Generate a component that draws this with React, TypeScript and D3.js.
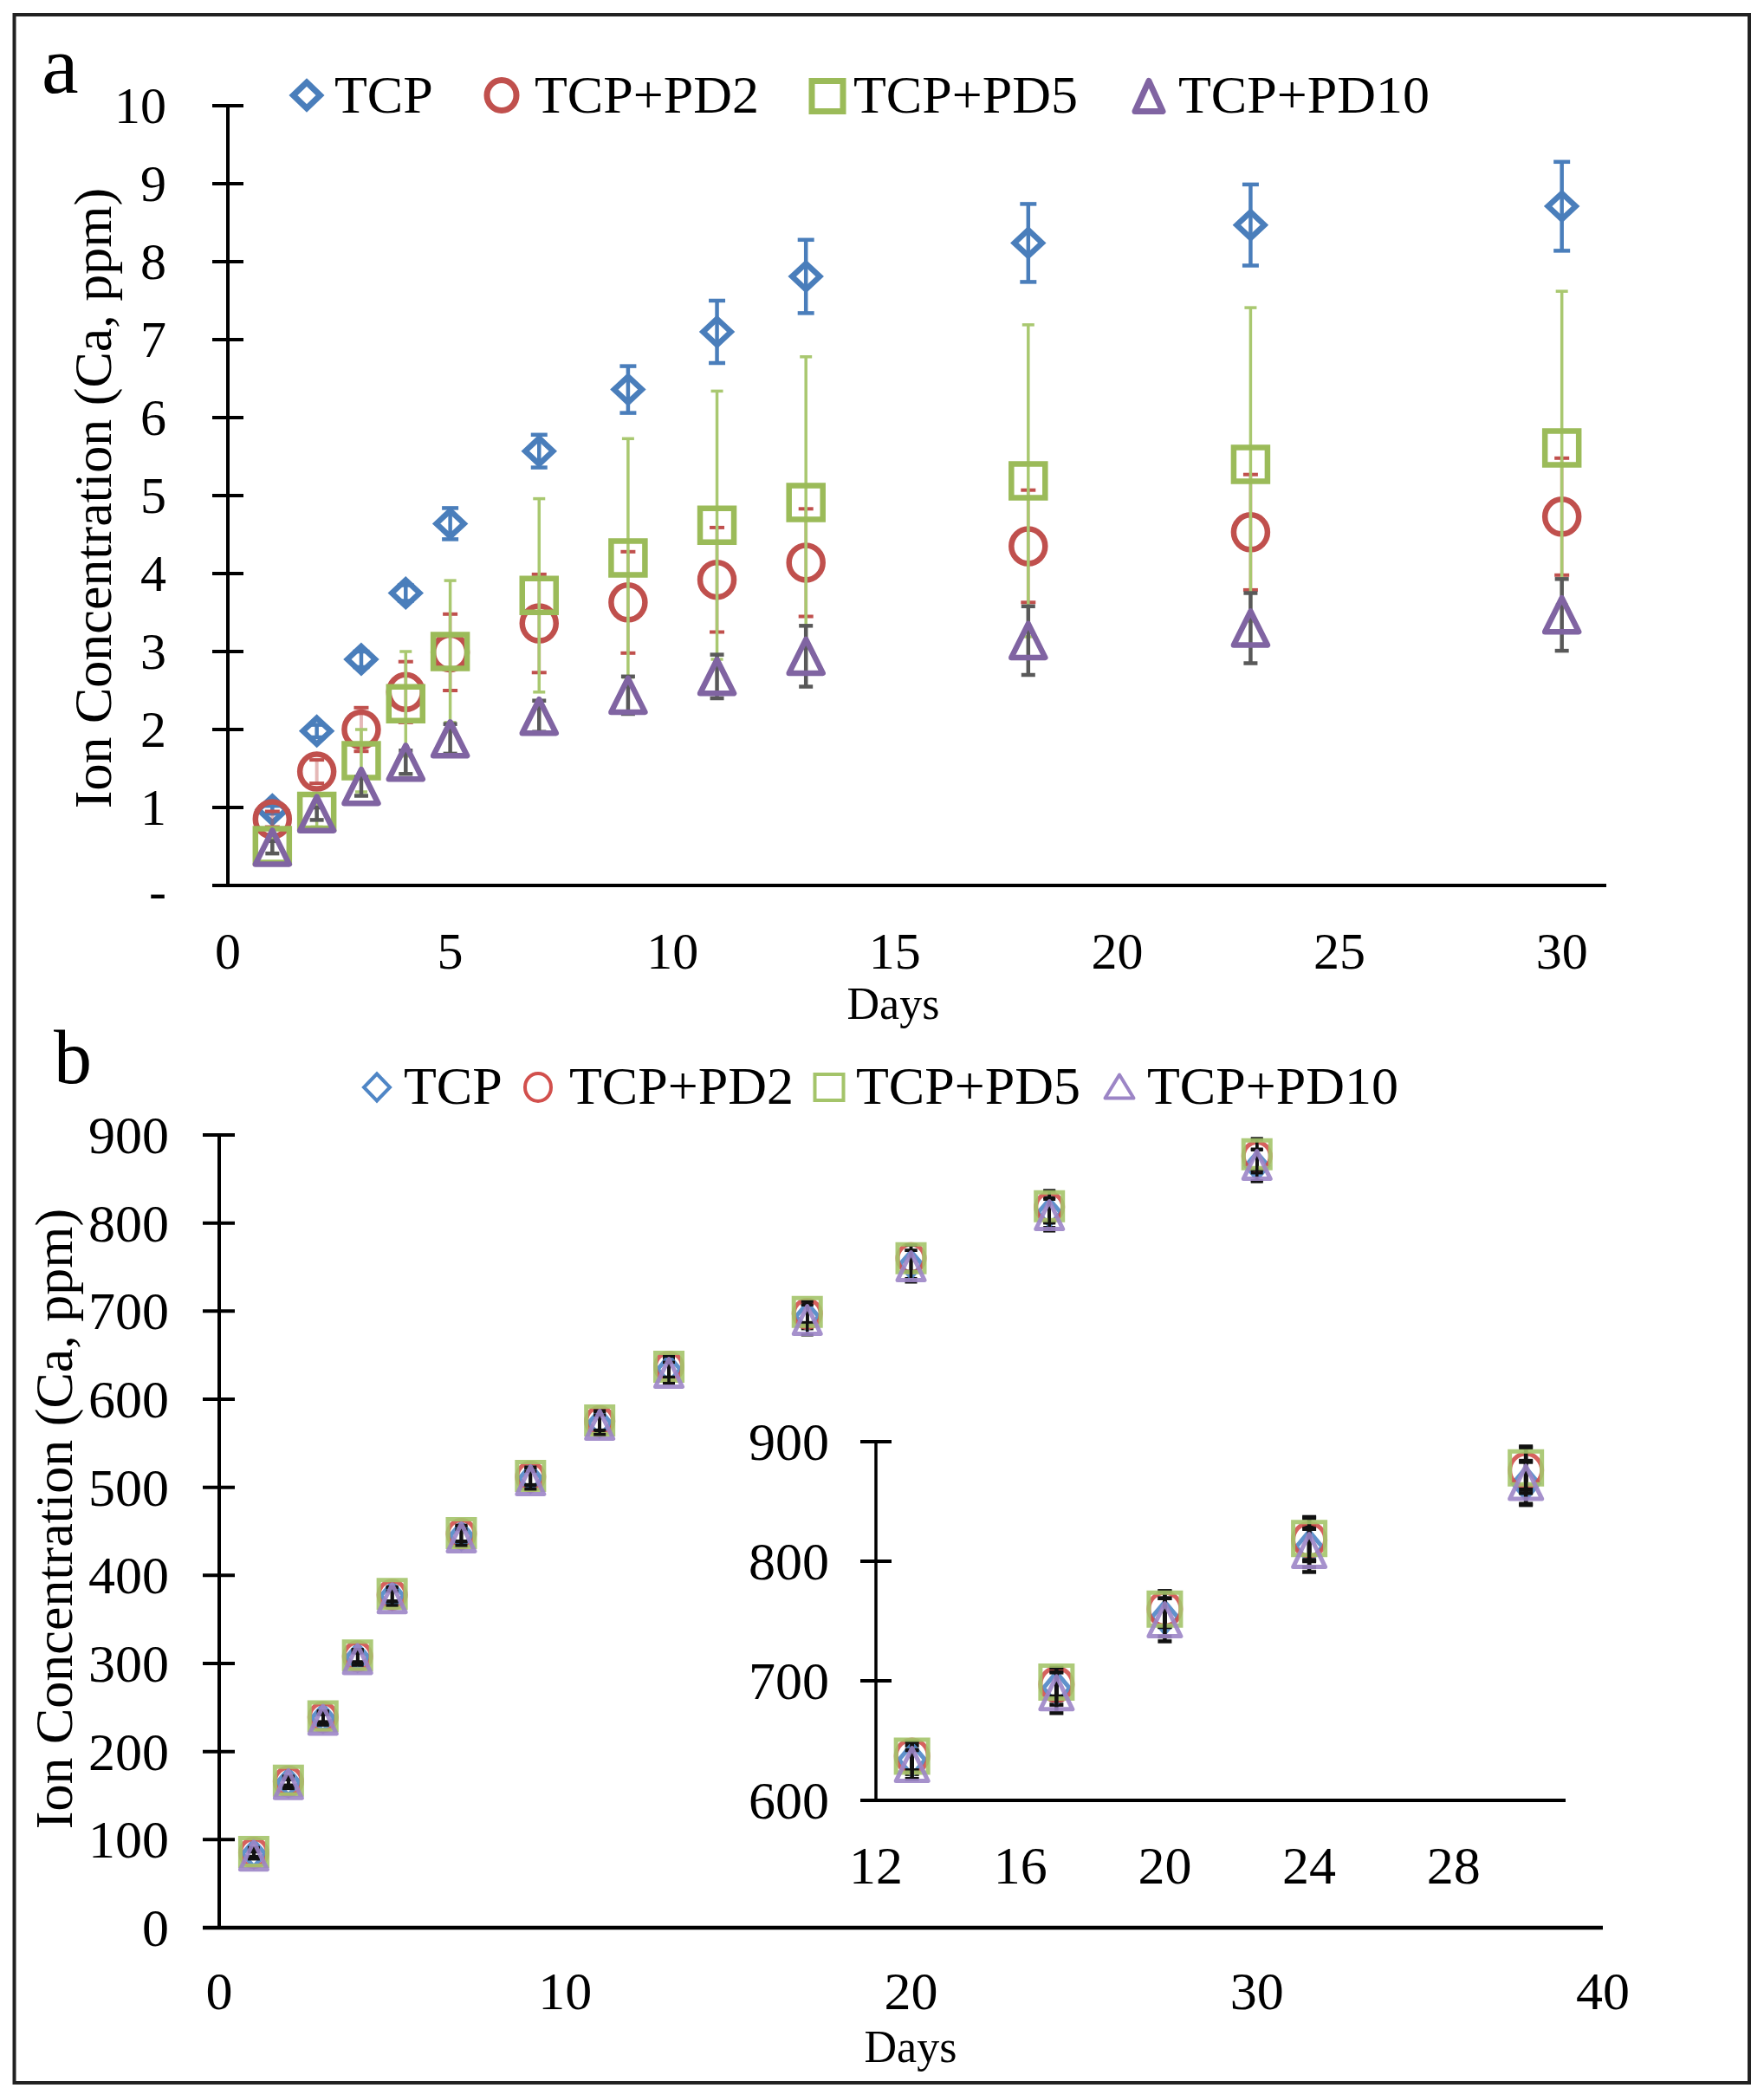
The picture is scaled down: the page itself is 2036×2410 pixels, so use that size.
import React from "react";
import * as d3 from "d3";

const FONT = "'Liberation Serif', 'Times New Roman', serif";

const seriesNames = ["TCP", "TCP+PD2", "TCP+PD5", "TCP+PD10"];
const seriesKinds = ["diamond", "circle", "square", "triangle"];
const colorsA = ["#4a7ebb", "#c0504d", "#9bbb59", "#8064a2"];
const errColorsA = ["#4a7ebb", "#c0504d", "#a9c870", "#595959"];
const colorsB = ["#4f86c6", "#d2504d", "#a4c46a", "#9c85c6"];

// Panel a data
const daysA = [1, 2, 3, 4, 5, 7, 9, 11, 13, 18, 23, 30];
const tcpA = [0.97, 1.98, 2.9, 3.75, 4.64, 5.57, 6.36, 7.1, 7.81, 8.24, 8.47, 8.71];
const tcpAErr = [0.05, 0.08, 0.1, 0.1, 0.2, 0.21, 0.3, 0.4, 0.47, 0.5, 0.52, 0.57];
const pd2A = [0.85, 1.46, 2.0, 2.48, 2.99, 3.36, 3.63, 3.92, 4.14, 4.35, 4.53, 4.73];
const pd2AErr = [0.1, 0.15, 0.28, 0.39, 0.49, 0.63, 0.65, 0.67, 0.69, 0.72, 0.74, 0.75];
const pd5A = [0.51, 0.95, 1.6, 2.33, 3.0, 3.72, 4.2, 4.62, 4.91, 5.19, 5.4, 5.61];
const pd5AErr = [0.1, 0.2, 0.4, 0.67, 0.91, 1.24, 1.53, 1.72, 1.87, 2.0, 2.01, 2.01];
const pd10A = [0.49, 0.92, 1.27, 1.58, 1.88, 2.17, 2.44, 2.68, 2.94, 3.14, 3.3, 3.47];
const pd10AErr = [0.08, 0.08, 0.12, 0.15, 0.19, 0.2, 0.24, 0.28, 0.39, 0.44, 0.45, 0.46];

const xTicksA = [0, 5, 10, 15, 20, 25, 30];
const yTicksA = [0, 1, 2, 3, 4, 5, 6, 7, 8, 9, 10];
const yTickLabelsA = ["-", "1", "2", "3", "4", "5", "6", "7", "8", "9", "10"];

// Panel b data
const daysB = [1, 2, 3, 4, 5, 7, 9, 11, 13, 17, 20, 24, 30];
const tcpB = [84, 165, 238, 307, 377, 445, 510, 573, 634, 694, 753, 812, 865];
const pd2B = [85, 166, 239, 308, 378, 447, 512, 575, 637, 697, 760, 818, 876];
const pd5B = [86, 167, 240, 309, 379, 448, 513, 576, 637, 699, 760, 819, 878];
const pd10B = [82, 163, 236, 305, 374, 443, 508, 571, 630, 690, 751, 809, 866];
const tcpBErr = [4, 5, 6, 7, 8, 9, 10, 11, 12, 14, 16, 17, 18];
const pd2BErr = [4, 5, 6, 7, 8, 9, 10, 11, 12, 13, 15, 18, 19];
const pd5BErr = [5, 5, 6, 7, 8, 9, 10, 11, 12, 12, 15, 18, 18];
const pd10BErr = [4, 5, 6, 7, 8, 9, 10, 11, 12, 17, 18, 18, 18];

const xTicksB = [0, 10, 20, 30, 40];
const yTicksB = [0, 100, 200, 300, 400, 500, 600, 700, 800, 900];
const xTicksInset = [12, 16, 20, 24, 28];
const yTicksInset = [600, 700, 800, 900];
const insetMinDay = 12;

const seriesA = [
  { v: tcpA, e: tcpAErr },
  { v: pd2A, e: pd2AErr },
  { v: pd5A, e: pd5AErr },
  { v: pd10A, e: pd10AErr },
];
const seriesB = [
  { v: tcpB, e: tcpBErr },
  { v: pd2B, e: pd2BErr },
  { v: pd5B, e: pd5BErr },
  { v: pd10B, e: pd10BErr },
];

function markerPath(kind: string, cx: number, cy: number, w: number, h: number) {
  const hw = w / 2, hh = h / 2;
  if (kind === "diamond") {
    return `M${cx},${cy - hh}L${cx + hw},${cy}L${cx},${cy + hh}L${cx - hw},${cy}Z`;
  }
  if (kind === "square") {
    return `M${cx - hw},${cy - hh}L${cx + hw},${cy - hh}L${cx + hw},${cy + hh}L${cx - hw},${cy + hh}Z`;
  }
  if (kind === "triangle") {
    return `M${cx},${cy - hh}L${cx + hw},${cy + hh}L${cx - hw},${cy + hh}Z`;
  }
  return `M${cx - hw},${cy}A${hw},${hh} 0 1,0 ${cx + hw},${cy}A${hw},${hh} 0 1,0 ${cx - hw},${cy}Z`;
}

function Marker(props: { kind: string; cx: number; cy: number; w: number; h: number; color: string; sw: number; opacity?: number }) {
  const { kind, cx, cy, w, h, color, sw, opacity } = props;
  return (
    <path
      d={markerPath(kind, cx, cy, w, h)}
      fill="none"
      stroke={color}
      strokeWidth={sw}
      strokeLinejoin={kind === "triangle" ? "round" : "miter"}
      opacity={opacity ?? 1}
    />
  );
}

const sizeA: Record<string, [number, number]> = {
  diamond: [32, 30],
  circle: [39, 40],
  square: [39, 39],
  triangle: [39, 39],
};

export default function App() {
  const xA = d3.scaleLinear().domain([0, 31]).range([263, 1854]);
  const yA = d3.scaleLinear().domain([0, 10]).range([1022, 122]);
  const xB = d3.scaleLinear().domain([0, 40]).range([253, 1850]);
  const yB = d3.scaleLinear().domain([0, 900]).range([2225, 1310]);
  const xI = d3.scaleLinear().domain([12, 31.1]).range([1011, 1807]);
  const yI = d3.scaleLinear().domain([600, 900]).range([2078, 1664]);

  const axisStroke = "#000";

  const errBar = (x: number, y0: number, y1: number, color: string, sw: number, cap: number, key: string, lineOpacity = 1) => (
    <g key={key}>
      <line x1={x} x2={x} y1={y0} y2={y1} stroke={color} strokeWidth={sw} opacity={lineOpacity} />
      <line x1={x - cap / 2} x2={x + cap / 2} y1={y0} y2={y0} stroke={color} strokeWidth={sw} />
      <line x1={x - cap / 2} x2={x + cap / 2} y1={y1} y2={y1} stroke={color} strokeWidth={sw} />
    </g>
  );

  const errStyleA = [
    { sw: 4.5, cap: 19, op: 1 },
    { sw: 4, cap: 17, op: 0.4 },
    { sw: 3.5, cap: 14, op: 1 },
    { sw: 4.5, cap: 16, op: 1 },
  ];

  const legendA = [
    { mx: 354, my: 110, w: 31, h: 30, tx: 386 },
    { mx: 579, my: 110, w: 34, h: 35, tx: 617 },
    { mx: 955, my: 111, w: 36, h: 35, tx: 985 },
    { mx: 1326, my: 111, w: 32, h: 35, tx: 1360 },
  ];
  const legendB = [
    { mx: 435, my: 1255, w: 30, h: 31, tx: 466 },
    { mx: 621, my: 1255, w: 30, h: 32, tx: 657 },
    { mx: 957, my: 1255, w: 33, h: 30, tx: 988 },
    { mx: 1292, my: 1254, w: 33, h: 27, tx: 1324 },
  ];

  return (
    <svg
      width={2036}
      height={2410}
      viewBox="0 0 2036 2410"
      style={{ position: "absolute", left: 0, top: 0, display: "block", background: "#fff" }}
      fontFamily={FONT}
    >
      <rect x={0} y={0} width={2036} height={2410} fill="#fff" />
      <rect x={16.5} y={17} width={2002.5} height={2387} fill="none" stroke="#222" strokeWidth={4} />

      {/* ================= Panel a ================= */}
      <text x={48} y={107} fontSize={96}>a</text>

      {seriesNames.map((n, i) => (
        <g key={"la" + i}>
          <Marker kind={seriesKinds[i]} cx={legendA[i].mx} cy={legendA[i].my} w={legendA[i].w} h={legendA[i].h} color={colorsA[i]} sw={7} />
          <text x={legendA[i].tx} y={130} fontSize={62}>{n}</text>
        </g>
      ))}

      <line x1={263} x2={263} y1={yA(10)} y2={yA(0)} stroke={axisStroke} strokeWidth={4} />
      <line x1={245} x2={xA.range()[1]} y1={yA(0)} y2={yA(0)} stroke={axisStroke} strokeWidth={4} />
      {yTicksA.map((t, i) => (
        <g key={"yta" + t}>
          <line x1={245} x2={281} y1={yA(t)} y2={yA(t)} stroke={axisStroke} strokeWidth={4} />
          <text x={192} y={yA(t) + (t === 0 ? 7 : 0)} fontSize={60} textAnchor="end" dominantBaseline="central">
            {yTickLabelsA[i]}
          </text>
        </g>
      ))}
      {xTicksA.map((t) => (
        <text key={"xta" + t} x={xA(t)} y={1118} fontSize={60} textAnchor="middle">{t}</text>
      ))}
      <text x={1031} y={1176} fontSize={52} textAnchor="middle">Days</text>
      <text transform="translate(128,575) rotate(-90)" fontSize={62} textAnchor="middle">
        Ion Concentration (Ca, ppm)
      </text>

      {seriesA.map((s, si) => (
        <g key={"sa" + si}>
          {daysA.map((d, i) =>
            errBar(
              xA(d),
              yA(s.v[i] + s.e[i]),
              yA(s.v[i] - s.e[i]),
              errColorsA[si],
              errStyleA[si].sw,
              errStyleA[si].cap,
              "ea" + si + "-" + i,
              errStyleA[si].op
            )
          )}
          {daysA.map((d, i) => (
            <Marker
              key={"ma" + si + "-" + i}
              kind={seriesKinds[si]}
              cx={xA(d)}
              cy={yA(s.v[i])}
              w={sizeA[seriesKinds[si]][0]}
              h={sizeA[seriesKinds[si]][1]}
              color={colorsA[si]}
              sw={6.5}
            />
          ))}
        </g>
      ))}

      {/* ================= Panel b ================= */}
      <text x={62} y={1250} fontSize={88}>b</text>

      {seriesNames.map((n, i) => (
        <g key={"lb" + i}>
          <Marker kind={seriesKinds[i]} cx={legendB[i].mx} cy={legendB[i].my} w={legendB[i].w} h={legendB[i].h} color={colorsB[i]} sw={4} />
          <text x={legendB[i].tx} y={1274} fontSize={62}>{n}</text>
        </g>
      ))}

      <line x1={253} x2={253} y1={yB(900)} y2={yB(0)} stroke={axisStroke} strokeWidth={4} />
      <line x1={234} x2={xB.range()[1]} y1={yB(0)} y2={yB(0)} stroke={axisStroke} strokeWidth={4.5} />
      {yTicksB.map((t) => (
        <g key={"ytb" + t}>
          <line x1={234} x2={271} y1={yB(t)} y2={yB(t)} stroke={axisStroke} strokeWidth={4} />
          <text x={195} y={yB(t)} fontSize={62} textAnchor="end" dominantBaseline="central">{t}</text>
        </g>
      ))}
      {xTicksB.map((t) => (
        <text key={"xtb" + t} x={xB(t)} y={2319} fontSize={62} textAnchor="middle">{t}</text>
      ))}
      <text x={1051} y={2380} fontSize={52} textAnchor="middle">Days</text>
      <text transform="translate(83,1753) rotate(-90)" fontSize={62} textAnchor="middle">
        Ion Concentration (Ca, ppm)
      </text>

      {seriesB.map((s, si) => (
        <g key={"sb" + si}>
          {daysB.map((d, i) =>
            errBar(xB(d), yB(s.v[i] + s.e[i]), yB(s.v[i] - s.e[i]), "#111", 3.5, 14, "eb" + si + "-" + i)
          )}
          {daysB.map((d, i) => (
            <Marker
              key={"mb" + si + "-" + i}
              kind={seriesKinds[si]}
              cx={xB(d)}
              cy={yB(s.v[i])}
              w={seriesKinds[si] === "diamond" ? 26 : 31}
              h={seriesKinds[si] === "diamond" ? 30 : 32}
              color={colorsB[si]}
              sw={5}
              opacity={0.9}
            />
          ))}
        </g>
      ))}

      {/* inset */}
      <line x1={1011} x2={1011} y1={yI(900)} y2={yI(600)} stroke={axisStroke} strokeWidth={3.5} />
      <line x1={993} x2={1807} y1={yI(600)} y2={yI(600)} stroke={axisStroke} strokeWidth={4} />
      {yTicksInset.map((t) => (
        <g key={"yti" + t}>
          <line x1={993} x2={1029} y1={yI(t)} y2={yI(t)} stroke={axisStroke} strokeWidth={4} />
          <text x={957} y={yI(t)} fontSize={62} textAnchor="end" dominantBaseline="central">{t}</text>
        </g>
      ))}
      {xTicksInset.map((t) => (
        <text key={"xti" + t} x={xI(t)} y={2174} fontSize={62} textAnchor="middle">{t}</text>
      ))}
      {seriesB.map((s, si) => (
        <g key={"si" + si}>
          {daysB.map((d, i) =>
            d < insetMinDay ? null : errBar(xI(d), yI(s.v[i] + s.e[i]), yI(s.v[i] - s.e[i]), "#111", 4.5, 16, "ei" + si + "-" + i)
          )}
          {daysB.map((d, i) =>
            d < insetMinDay ? null : (
              <Marker
                key={"mi" + si + "-" + i}
                kind={seriesKinds[si]}
                cx={xI(d)}
                cy={yI(s.v[i])}
                w={seriesKinds[si] === "diamond" ? 30 : 37}
                h={seriesKinds[si] === "diamond" ? 36 : 38}
                color={colorsB[si]}
                sw={5}
                opacity={0.9}
              />
            )
          )}
        </g>
      ))}
    </svg>
  );
}
